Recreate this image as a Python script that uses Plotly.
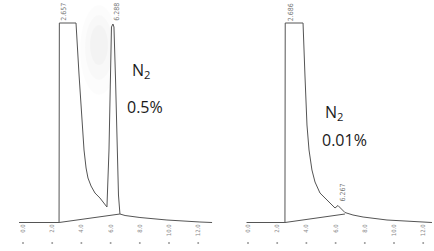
import plotly.graph_objects as go

# ---- data (retention time in min, detector signal in arbitrary units) ----
left_t = [-0.27, 2.47, 2.49, 3.63, 3.84, 4.04, 4.18, 4.32, 4.45, 4.66, 4.93, 5.27, 5.55, 5.75,
          5.89, 5.99, 6.06, 6.16, 6.23, 6.34, 6.44, 6.54, 6.64, 6.99, 8.01, 9.86, 12.12, 12.95]
left_s = [-0.25, -0.25, 99.5, 99.5, 73.5, 48.5, 36, 27, 22, 18, 14.5, 12, 9.5, 7.5,
          36, 81, 97.5, 99, 97.5, 71, 36, 13.5, 4, 3.25, 2.25, 1, 0, -0.25]
left_base_t = [2.47, 6.64]
left_base_s = [-0.25, 4.0]
left_peaks_rt = [2.657, 6.288]
left_peaks_lbl = ["2.657", "6.288"]

right_t = [-0.1, 2.53, 2.55, 3.77, 3.90, 4.04, 4.18, 4.38, 4.59, 4.93, 5.41, 5.75, 5.96, 6.16,
           6.37, 6.64, 7.19, 7.88, 9.52, 11.78, 12.60]
right_s = [-0.25, -0.25, 99.5, 99.5, 73.5, 48.5, 36, 26, 20, 14.5, 11, 8.5, 7, 8.25,
           6.75, 4.75, 3.5, 2.5, 1, 0, -0.25]
right_base_t = [2.53, 6.64]
right_base_s = [-0.25, 4.0]
right_peaks_rt = [2.686, 6.267]
right_peaks_lbl = ["2.686", "6.267"]

tick_vals = [0, 2, 4, 6, 8, 10, 12]
tick_text = ["0.0", "2.0", "4.0", "6.0", "8.0", "10.0", "12.0"]

LINE = "#555555"

fig = go.Figure()
fig.add_trace(go.Scatter(x=left_t, y=left_s, mode="lines", line=dict(color=LINE, width=1),
                         xaxis="x", yaxis="y", hoverinfo="skip"))
fig.add_trace(go.Scatter(x=left_base_t, y=left_base_s, mode="lines", line=dict(color=LINE, width=1),
                         xaxis="x", yaxis="y", hoverinfo="skip"))
fig.add_trace(go.Scatter(x=right_t, y=right_s, mode="lines", line=dict(color=LINE, width=1),
                         xaxis="x2", yaxis="y", hoverinfo="skip"))
fig.add_trace(go.Scatter(x=right_base_t, y=right_base_s, mode="lines", line=dict(color=LINE, width=1),
                         xaxis="x2", yaxis="y", hoverinfo="skip"))
# small dot marks below tick labels
fig.add_trace(go.Scatter(x=tick_vals, y=[-10.5] * len(tick_vals), mode="markers",
                         marker=dict(color="#999999", size=2), xaxis="x", yaxis="y", hoverinfo="skip"))
fig.add_trace(go.Scatter(x=tick_vals, y=[-10.5] * len(tick_vals), mode="markers",
                         marker=dict(color="#999999", size=2), xaxis="x2", yaxis="y", hoverinfo="skip"))

LBLFONT = dict(size=7, color="#777777", family="DejaVu Sans Condensed")
annotations = []
for rt, lbl in zip(left_peaks_rt, left_peaks_lbl):
    annotations.append(dict(x=rt, y=105, xref="x", yref="y", text=lbl, textangle=-90, showarrow=False,
                            font=LBLFONT, xshift=2))
right_label_y = [105, 14.5]
right_shift = [4, 3]
for rt, lbl, yy, sh in zip(right_peaks_rt, right_peaks_lbl, right_label_y, right_shift):
    annotations.append(dict(x=rt, y=yy, xref="x2", yref="y", text=lbl, textangle=-90, showarrow=False,
                            font=LBLFONT, xshift=sh))

TXT = dict(family="Open Sans", size=16, color="#1a1a1a")
annotations += [
    dict(x=141 / 434, y=1 - 70 / 251, xref="paper", yref="paper", text="N<sub>2</sub>", showarrow=False,
         font=TXT, xanchor="center", yanchor="middle"),
    dict(x=145 / 434, y=1 - 107 / 251, xref="paper", yref="paper", text="0.5%", showarrow=False,
         font=TXT, xanchor="center", yanchor="middle"),
    dict(x=334 / 434, y=1 - 112 / 251, xref="paper", yref="paper", text="N<sub>2</sub>", showarrow=False,
         font=TXT, xanchor="center", yanchor="middle"),
    dict(x=344 / 434, y=1 - 140 / 251, xref="paper", yref="paper", text="0.01%", showarrow=False,
         font=TXT, xanchor="center", yanchor="middle"),
]

# faint grey smudge in left panel
shapes = []
for (x0, x1, y0, y1, op) in [(80, 118, 5, 95, 0.012), (85, 113, 15, 80, 0.015), (90, 108, 25, 65, 0.018)]:
    shapes.append(dict(type="circle", xref="paper", yref="paper", x0=x0 / 434, x1=x1 / 434,
                       y0=1 - y1 / 251, y1=1 - y0 / 251, fillcolor=f"rgba(0,0,0,{op})",
                       line=dict(width=0), layer="below"))

axis_common = dict(showgrid=False, zeroline=False, showline=False, ticks="",
                   tickvals=tick_vals, ticktext=tick_text, tickangle=-90,
                   tickfont=dict(size=6, color="#888888", family="DejaVu Sans Condensed"),
                   anchor="free", position=(251 - 222) / 251, fixedrange=True)

fig.update_layout(
    width=434, height=251,
    margin=dict(l=0, r=0, t=0, b=0),
    paper_bgcolor="white", plot_bgcolor="white",
    showlegend=False,
    xaxis=dict(domain=[0, 0.5], range=[-23 / 14.6, 194 / 14.6], **axis_common),
    xaxis2=dict(domain=[0.5, 1], range=[-31 / 14.6, 186 / 14.6], **axis_common),
    yaxis=dict(domain=[0, 1], range=[-14.5, 111], visible=False, fixedrange=True),
    annotations=annotations,
    shapes=shapes,
)

fig.write_html("out.html")
